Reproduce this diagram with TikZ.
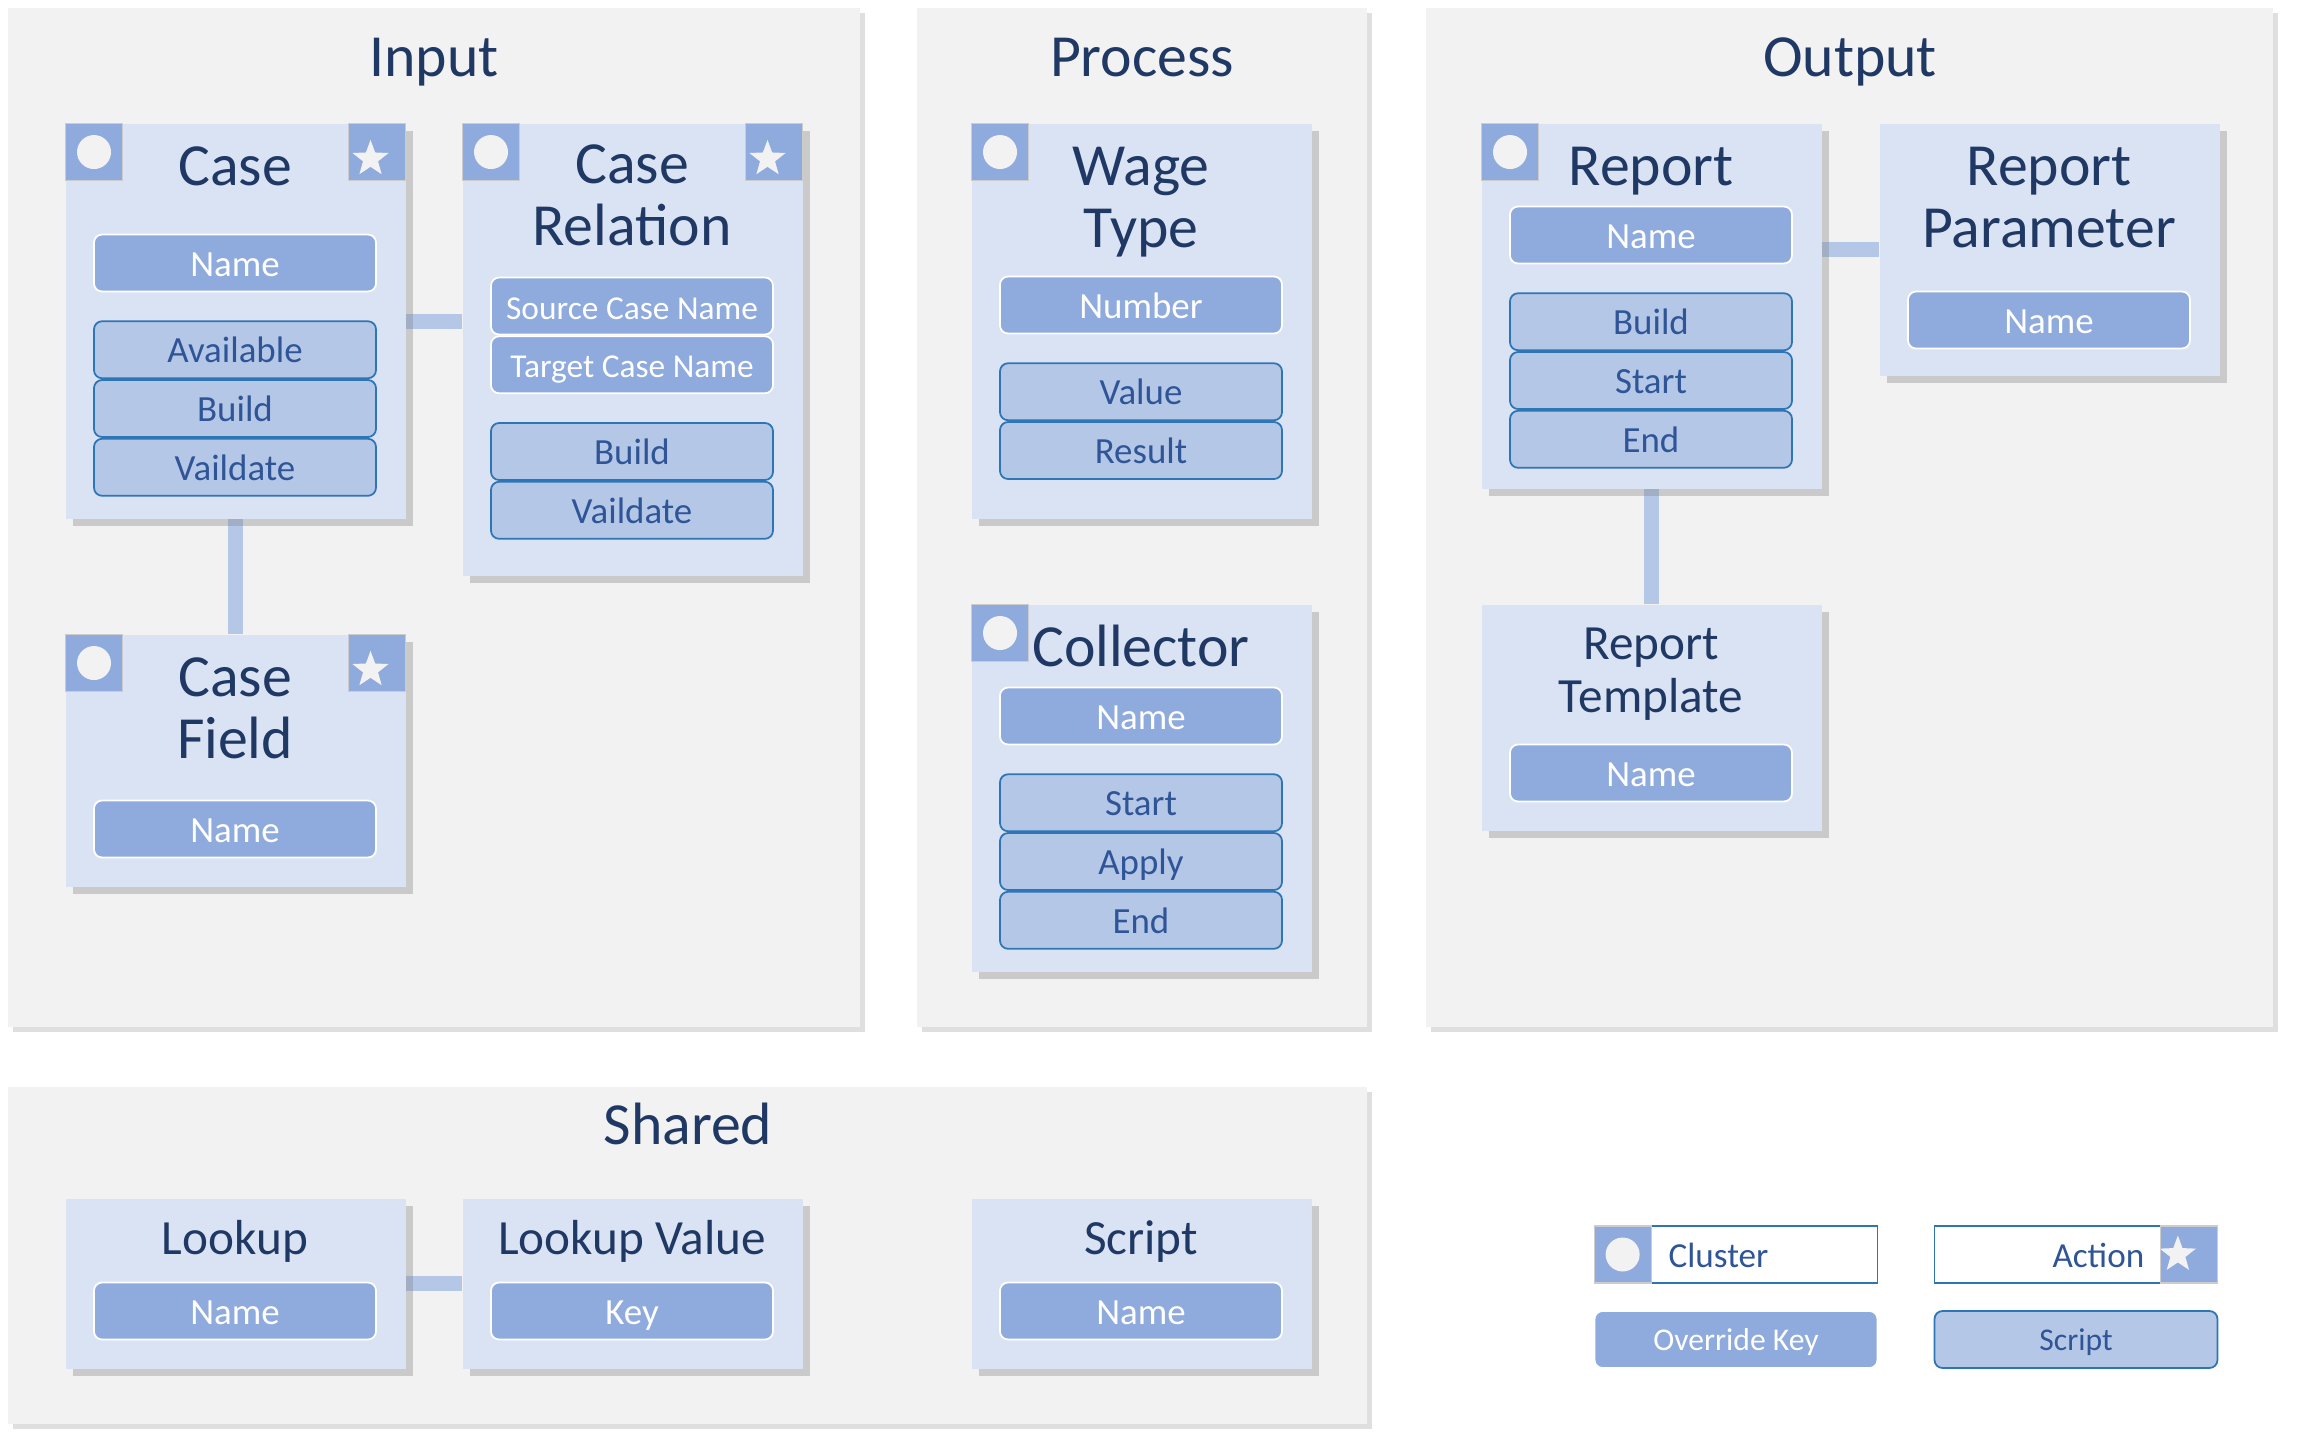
\documentclass[tikz,border=0pt]{standalone}
\usepackage{fontspec}
\setmainfont{Carlito}
\usetikzlibrary{positioning,shadows,shapes.geometric}

\definecolor{panelgray}{HTML}{F2F2F2}
\definecolor{boxblue}{HTML}{DAE3F3}
\definecolor{keyblue}{HTML}{8FAADC}
\definecolor{actblue}{HTML}{B4C7E7}
\definecolor{actline}{HTML}{2E75B6}
\definecolor{acttext}{HTML}{2F5597}
\definecolor{navy}{HTML}{1F3864}
\definecolor{markwhite}{HTML}{F2F2F2}

\pgfdeclarelayer{panels}
\pgfdeclarelayer{links}
\pgfsetlayers{panels,links,main}

\tikzset{
  panel/.style={fill=panelgray, drop shadow={shadow xshift=1.4pt, shadow yshift=-1.4pt, opacity=0.25}},
  paneltitle/.style={text=navy, font=\fontsize{17}{17.6}\selectfont, anchor=base},
  entity/.style={rectangle, fill=boxblue, minimum width=34mm, anchor=north west, inner sep=0pt,
    drop shadow={shadow xshift=2.2pt, shadow yshift=-2.2pt, opacity=0.35}},
  bigtitle/.style={text=navy, font=\fontsize{17}{17.6}\selectfont, align=center, anchor=base, inner sep=0pt},
  smalltitle/.style={text=navy, font=\fontsize{14}{14.8}\selectfont, align=center, anchor=base, inner sep=0pt},
  field/.style={rectangle, rounded corners=2.3pt, minimum width=28.2mm, minimum height=5.7mm, inner sep=0pt,
    font=\fontsize{10.5}{12}\selectfont, text height=8.5pt, text depth=1pt, line width=0.5pt},
  keyfield/.style={field, fill=keyblue, draw=white, text=white},
  actfield/.style={field, fill=actblue, draw=actline, text=acttext},
  link/.style={actblue, line width=1.5mm},
  clustermark/.style={rectangle, fill=keyblue, draw=black!20, line width=0.3pt, minimum size=5.7mm, inner sep=0pt,
    path picture={\fill[markwhite] (path picture bounding box.center) circle (1.7mm);}},
  actionmark/.style={rectangle, fill=keyblue, draw=black!20, line width=0.3pt, minimum size=5.7mm, inner sep=0pt,
    path picture={\node[star, star points=5, star point ratio=2.4, fill=markwhite, inner sep=0pt, minimum size=3.8mm]
      at (path picture bounding box.center) {};}},
  legendbox/.style={rectangle, fill=white, draw=actline, line width=0.5pt, minimum width=28.3mm, minimum height=5.7mm, inner sep=0pt},
  legendtext/.style={text=acttext, font=\fontsize{10}{12}\selectfont, inner sep=0pt},
}

\begin{document}
\begin{tikzpicture}[x=0.1mm, y=-0.1mm]
  \useasboundingbox (0,0) rectangle (2300,1450);

  % group panels
  \begin{pgfonlayer}{panels}
    \fill[panel] (8,8) rectangle (860,1027);
    \fill[panel] (917,8) rectangle (1367,1027);
    \fill[panel] (1426,8) rectangle (2273,1027);
    \fill[panel] (8,1087) rectangle (1367,1424);
  \end{pgfonlayer}
  \node[paneltitle] (inputttl) at (434,76) {Input};
  \node[paneltitle] (processttl) at (1142,76) {Process};
  \node[paneltitle] (outputttl) at (1850,76) {Output};
  \node[paneltitle] (sharedttl) at (688,1144) {Shared};

  % Input
  \node[entity, minimum height=39.5mm] (case) at (65,123) {};
  \node[clustermark, anchor=north west] (casecl) at (case.north west) {};
  \node[actionmark, anchor=north east] (caseact) at (case.north east) {};
  \node[bigtitle] (casettl) at (235,185) {Case};
  \node[keyfield] (casename) at (235,263) {Name};
  \node[actfield, below=2.8mm of casename] (caseavail) {Available};
  \node[actfield, below=0mm of caseavail] (casebuild) {Build};
  \node[actfield, below=0mm of casebuild] (casevalid) {Vaildate};

  \node[entity, minimum height=45.2mm] (caserel) at (462,123) {};
  \node[clustermark, anchor=north west] (relcl) at (caserel.north west) {};
  \node[actionmark, anchor=north east] (relact) at (caserel.north east) {};
  \node[bigtitle] (relttl) at (632,245) {Case\\Relation};
  \node[keyfield, font=\fontsize{9.5}{11}\selectfont] (relsource) at (632,306) {Source Case Name};
  \node[keyfield, font=\fontsize{9.5}{11}\selectfont, below=0mm of relsource] (reltarget) {Target Case Name};
  \node[actfield, below=2.8mm of reltarget] (relbuild) {Build};
  \node[actfield, below=0mm of relbuild] (relvalid) {Vaildate};

  \node[entity, minimum height=25.2mm] (casefield) at (65,634) {};
  \node[clustermark, anchor=north west] (fieldcl) at (casefield.north west) {};
  \node[actionmark, anchor=north east] (fieldact) at (casefield.north east) {};
  \node[bigtitle] (fieldttl) at (235,758) {Case\\Field};
  \node[keyfield] (fieldname) at (235,829) {Name};

  % Process
  \node[entity, minimum height=39.5mm] (wage) at (971,123) {};
  \node[clustermark, anchor=north west] (wagecl) at (wage.north west) {};
  \node[bigtitle] (wagettl) at (1141,247) {Wage\\Type};
  \node[keyfield] (wagenumber) at (1141,305) {Number};
  \node[actfield, below=2.8mm of wagenumber] (wagevalue) {Value};
  \node[actfield, below=0mm of wagevalue] (wageresult) {Result};

  \node[entity, minimum height=36.7mm] (collector) at (971,604) {};
  \node[clustermark, anchor=north west] (colcl) at (collector.north west) {};
  \node[bigtitle] (colttl) at (1141,666) {Collector};
  \node[keyfield] (colname) at (1141,716) {Name};
  \node[actfield, below=2.8mm of colname] (colstart) {Start};
  \node[actfield, below=0mm of colstart] (colapply) {Apply};
  \node[actfield, below=0mm of colapply] (colend) {End};

  % Output
  \node[entity, minimum height=36.5mm] (report) at (1481,123) {};
  \node[clustermark, anchor=north west] (repcl) at (report.north west) {};
  \node[bigtitle] (repttl) at (1651,185) {Report};
  \node[keyfield] (repname) at (1651,235) {Name};
  \node[actfield, below=2.8mm of repname] (repbuild) {Build};
  \node[actfield, below=0mm of repbuild] (repstart) {Start};
  \node[actfield, below=0mm of repstart] (repend) {End};

  \node[entity, minimum height=25.2mm] (reportpar) at (1879,123) {};
  \node[bigtitle] (parttl) at (2049,247) {Report\\Parameter};
  \node[keyfield] (parname) at (2049,320) {Name};

  \node[entity, minimum height=22.6mm] (reporttpl) at (1481,604) {};
  \node[smalltitle] (tplttl) at (1651,712) {Report\\Template};
  \node[keyfield] (tplname) at (1651,773) {Name};

  % Shared
  \node[entity, minimum height=17mm] (lookup) at (65,1198) {};
  \node[smalltitle] (lookupttl) at (235,1254) {Lookup};
  \node[keyfield] (lookupname) at (235,1311) {Name};

  \node[entity, minimum height=17mm] (lookupval) at (462,1198) {};
  \node[smalltitle] (lookupvalttl) at (632,1254) {Lookup Value};
  \node[keyfield] (lookupkey) at (632,1311) {Key};

  \node[entity, minimum height=17mm] (script) at (971,1198) {};
  \node[smalltitle] (scriptttl) at (1141,1254) {Script};
  \node[keyfield] (scriptname) at (1141,1311) {Name};

  % relations
  \begin{pgfonlayer}{links}
    \draw[link] (case.east) -- (case.east -| caserel.west);
    \draw[link] (case.south) -- (casefield.north);
    \draw[link] (reportpar.west -| report.east) -- (reportpar.west);
    \draw[link] (report.south) -- (reporttpl.north);
    \draw[link] (lookup.east) -- (lookupval.west);
  \end{pgfonlayer}

  % legend
  \node[legendbox] (lgcluster) at (1736,1254.5) {};
  \node[clustermark, anchor=west] (lgclustermk) at (lgcluster.west) {};
  \node[legendtext, anchor=west] (lgclustertxt) at (1668,1255) {Cluster};
  \node[legendbox] (lgaction) at (2076,1254.5) {};
  \node[actionmark, anchor=east] (lgactionmk) at (lgaction.east) {};
  \node[legendtext, anchor=east] (lgactiontxt) at (2145,1255) {Action};
  \node[keyfield, minimum width=28.3mm, font=\fontsize{9}{11}\selectfont, text height=7.5pt] (lgkey) at (1736,1339.5) {Override Key};
  \node[actfield, minimum width=28.3mm, font=\fontsize{9}{11}\selectfont, text height=7.5pt] (lgscript) at (2076,1339.5) {Script};
\end{tikzpicture}
\end{document}
